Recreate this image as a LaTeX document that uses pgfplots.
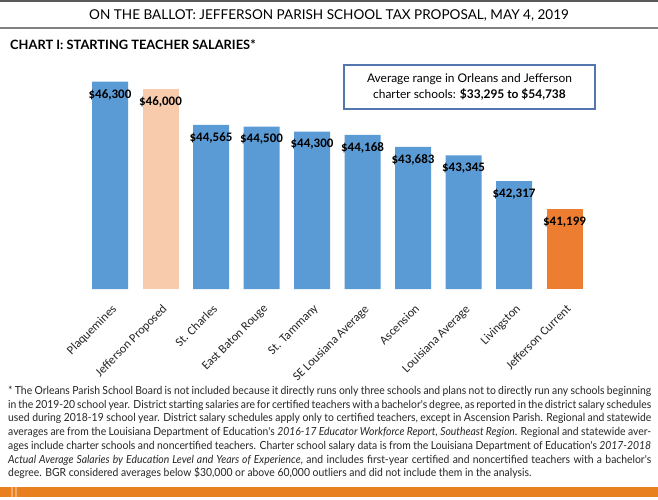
\documentclass[border=0pt]{standalone}
\usepackage{fontspec}
\setmainfont{Lato}
\newfontfamily\footfont[FakeStretch=0.93]{Lato}
\newfontfamily\calfont{Carlito}
\usepackage{pgfplots}
\pgfplotsset{compat=1.18}
\definecolor{barblue}{HTML}{5B9BD5}
\definecolor{barpeach}{HTML}{F8CBAD}
\definecolor{barorange}{HTML}{ED7D31}
\definecolor{boxblue}{HTML}{5575AE}
\definecolor{footorange}{HTML}{E8801F}
\begin{document}
\begin{tikzpicture}[x=1bp,y=1bp]
\useasboundingbox (0,0) rectangle (658,-500);
\fill[white] (0,0) rectangle (658,-500);
\draw[line width=2bp, color=black!65] (0,-1) -- (658,-1);
\node[anchor=base, inner sep=0, font=\fontsize{13.6}{16}\selectfont] at (329,-19.5) {ON THE BALLOT: JEFFERSON PARISH SCHOOL TAX PROPOSAL, MAY 4, 2019};
\draw[line width=1.5bp, color=black!50] (0,-28) -- (658,-28);
\node[anchor=base west, inner sep=0, font=\bfseries\fontsize{12.9}{14}\selectfont] at (10,-49.5) {CHART I: STARTING TEACHER SALARIES*};
\begin{axis}[
  at={(79.7bp,-289bp)}, anchor=south west,
  scale only axis, width=515.1bp, height=225bp,
  xmin=-0.6, xmax=9.6, ymin=38000, ymax=47000,
  axis line style={draw=none}, ytick=\empty,
  xtick={0,...,9}, major tick length=0pt,
  xticklabels={Plaquemines, Jefferson Proposed, St. Charles, East Baton Rouge, St. Tammany, SE Lousiana Average, Ascension, Louisiana Average, Livingston, Jefferson Current},
  xticklabel style={xshift=1bp, yshift=-13bp, rotate=45, anchor=north east, inner sep=1bp, font=\calfont\fontsize{12.4}{14}\selectfont, text=black!85},
  ybar, bar width=36bp, bar shift=0pt,
  /pgf/number format/assume math mode=true,
  nodes near coords={\$\pgfmathprintnumber[fixed, precision=0, 1000 sep={,}, assume math mode=true]{\pgfplotspointmeta}},
  nodes near coords style={anchor=center, yshift=-13bp, font=\calfont\bfseries\fontsize{13}{15}\selectfont, text=black},
  clip=false,
]
\addplot[fill=barblue, draw=none] coordinates {(0,46300) (2,44565) (3,44500) (4,44300) (5,44168) (6,43683) (7,43345) (8,42317)};
\addplot[fill=barpeach, draw=none] coordinates {(1,46000)};
\addplot[fill=barorange, draw=none] coordinates {(9,41199)};
\end{axis}
\node[draw=boxblue, line width=1.2bp, fill=white, minimum width=251bp, minimum height=44bp, align=center, font=\fontsize{12}{16}\selectfont] at (469.5,-87) {Average range in Orleans and Jefferson\\charter schools: \textbf{\$33,295 to \$54,738}};
\begin{scope}[every node/.style={anchor=base west, inner sep=0, text=black!85, font=\footfont\fontsize{11.2}{12}\selectfont}]
\node at (8,-394.5) {\makebox[643bp][s]{* The Orleans Parish School Board is not included because it directly runs only three schools and plans not to directly run any schools beginning}};
\node at (8,-408.2) {\makebox[643bp][s]{in the 2019-20 school year. District starting salaries are for certified teachers with a bachelor's degree, as reported in the district salary schedules}};
\node at (8,-421.9) {\makebox[643bp][s]{used during 2018-19 school year. District salary schedules apply only to certified teachers, except in Ascension Parish. Regional and statewide}};
\node at (8,-435.6) {\makebox[643bp][s]{averages are from the Louisiana Department of Education's \textit{2016-17 Educator Workforce Report, Southeast Region}. Regional and statewide aver-}};
\node at (8,-449.3) {\makebox[643bp][s]{ages include charter schools and noncertified teachers. Charter school salary data is from the Louisiana Department of Education's \textit{2017-2018}}};
\node at (8,-463.0) {\makebox[643bp][s]{\textit{Actual Average Salaries by Education Level and Years of Experience}, and includes first-year certified and noncertified teachers with a bachelor's}};
\node at (8,-476.7) {degree. BGR considered averages below \$30,000 or above 60,000 outliers and did not include them in the analysis.};
\end{scope}
\fill[footorange] (0,-487) rectangle (658,-497);
\fill[white, opacity=0.35] (11,-487) rectangle (12.5,-497);
\fill[white, opacity=0.35] (15,-487) rectangle (16.5,-497);
\end{tikzpicture}
\end{document}
